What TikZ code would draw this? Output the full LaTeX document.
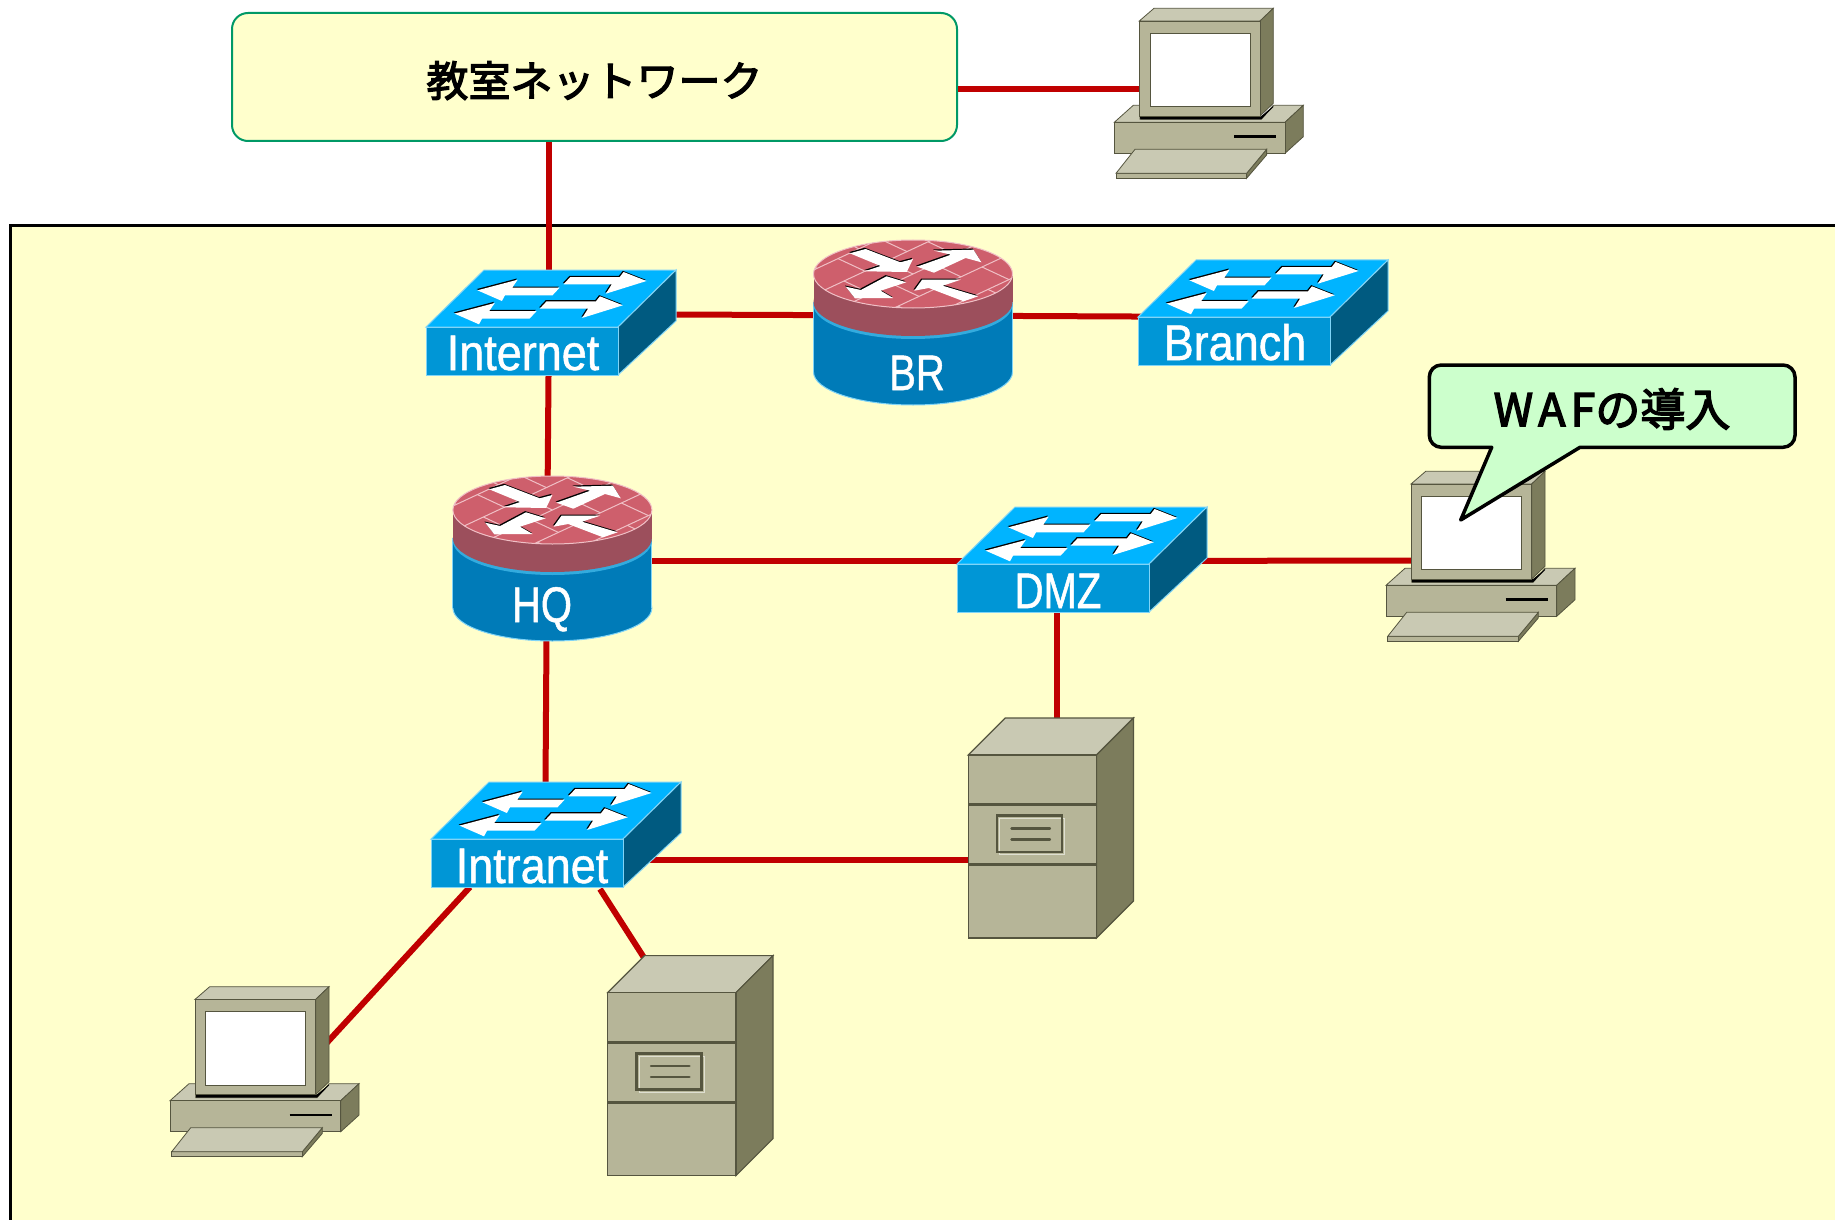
\documentclass[tikz,border=0pt]{standalone}
\usepackage{fontspec}
\usepackage{xcolor}
\usetikzlibrary{positioning}
\newfontfamily\cjkfont[FakeBold=3]{Noto Sans CJK JP}
\newfontfamily\devfont[FakeStretch=0.9,FakeBold=1]{Liberation Sans}
\newfontfamily\capsfont[FakeStretch=0.8,FakeBold=1]{Liberation Sans}
\definecolor{panelyellow}{HTML}{FFFFCC}
\definecolor{linkred}{HTML}{C00000}
\definecolor{roomgreen}{HTML}{009966}
\definecolor{bubblegreen}{HTML}{CCFFCC}
\definecolor{swtop}{HTML}{00B4FF}
\definecolor{swfront}{HTML}{0096D6}
\definecolor{swside}{HTML}{005A80}
\definecolor{swedge}{HTML}{80D4F7}
\definecolor{rttop}{HTML}{CE5F6C}
\definecolor{rtcollar}{HTML}{9C4F5C}
\definecolor{rtbrick}{HTML}{F0C0C6}
\definecolor{rtbody}{HTML}{007BB8}
\definecolor{boxfront}{HTML}{B6B598}
\definecolor{boxtop}{HTML}{C9C9B3}
\definecolor{boxside}{HTML}{7C7C5C}
\definecolor{boxedge}{HTML}{55553F}
\newcommand{\flatarrow}[1]{\fill[black,shift={(-.8,-1.2)}] #1 -- cycle; \fill[white] #1 -- cycle;}
\tikzset{
    pics/switchicon/.style={code={
        \draw[swedge, fill=swtop, line width=1pt] (0,0) -- (58,-57) -- (250,-57) -- (192,0) -- cycle;
        \draw[swedge, fill=swside, line width=1pt] (192,0) -- (250,-57) -- (250,-6) -- (192,48) -- cycle;
        \draw[swedge, fill=swfront, line width=1pt] (0,0) rectangle (192,48);
        % four arrows on the top face
        \foreach \dx/\dy in {0/0, -22.9/23.3} {
            \flatarrow{(51.4+\dx,-36.7+\dy) -- (91.7+\dx,-47.3+\dy) -- (86.2+\dx,-39.3+\dy) -- (133.6+\dx,-39.3+\dy) -- (126.5+\dx,-31.7+\dy) -- (79+\dx,-31.7+\dy) -- (75.9+\dx,-26+\dy)}
        }
        \foreach \dx/\dy in {0/0, -23.7/24.3} {
            \flatarrow{(220.5+\dx,-46+\dy) -- (197.6+\dx,-55+\dy) -- (193.7+\dx,-50+\dy) -- (144.3+\dx,-50+\dy) -- (137.5+\dx,-42.7+\dy) -- (185.8+\dx,-42.7+\dy) -- (179.8+\dx,-33.3+\dy)}
        }
    }},
    pics/routericon/.style={code={
        \fill[rtbody, draw=swedge, line width=1pt] (0,98) ellipse [x radius=99.5, y radius=33];
        \fill[rtbody] (-99.5,28) rectangle (99.5,98);
        \draw[swedge, line width=1pt] (-99.5,28) -- (-99.5,98) (99.5,28) -- (99.5,98);
        \fill[swfront!80!white] (0,31) ellipse [x radius=99.5, y radius=34];
        \fill[rtcollar] (0,28) ellipse [x radius=99.5, y radius=34];
        \fill[rtcollar] (-99.5,0) rectangle (99.5,28);
        \fill[rttop] (0,0) ellipse [x radius=99.5, y radius=34];
        \begin{scope}
            \clip (0,0) ellipse [x radius=99.5, y radius=34];
            % brick pattern
            \foreach \v in {-3,...,3} {
                \draw[rtbrick, line width=1pt] ({-150+\v*27},{70+\v*12.6}) -- ({150+\v*27},{-70+\v*12.6});
                \foreach \u in {-3,...,3} {
                    \draw[rtbrick, line width=1pt] ({\u*42+\v*27+Mod(\v+3,2)*21},{-\u*19.6+\v*12.6+Mod(\v+3,2)*(-9.8)}) -- ++(27,12.6);
                }
            }
        \end{scope}
        \draw[rtbrick, line width=1pt] (0,0) ellipse [x radius=99.5, y radius=34];
        \flatarrow{(-63.2,-20.7) -- (-47.4,-25) -- (-12.6,-11.7) -- (0,-15) -- (-6.3,-2) -- (-48.2,-2.7) -- (-32.4,-8)}
        \flatarrow{(4,-7.3) -- (37.9,-19.3) -- (20.9,-23.3) -- (60.5,-24.3) -- (68.4,-11.7) -- (52.6,-16) -- (20.9,-1.3)}
        \flatarrow{(-26.5,2.3) -- (-6.7,8.3) -- (-32.4,16.7) -- (-19.8,24) -- (-58.1,24.3) -- (-67.2,12.7) -- (-52.2,16)}
        \flatarrow{(1.2,16.7) -- (9.1,5.7) -- (47.8,5.7) -- (29.6,11.7) -- (65.2,22.3) -- (50.6,27.3) -- (15.8,14)}
    }},
    pics/pcicon/.style={code={
        % monitor
        \draw[boxedge, fill=boxtop, line width=.8pt] (0,0) -- (14.7,-12.7) -- (134,-12.7) -- (120.7,0) -- cycle;
        \draw[boxedge, fill=boxside, line width=.8pt] (120.7,0) -- (134,-12.7) -- (134,82.3) -- (120.7,95) -- cycle;
        % base
        \draw[boxedge, fill=boxtop, line width=.8pt] (-25,101.3) -- (-6,84.3) -- (.7,84.3) -- (.7,98.3) -- (122,98.3) -- (134,84.3) -- (164,84.3) -- (145.7,101.3) -- cycle;
        \fill[black] (.7,95) -- (122,95) -- (134,85) -- (134,86) -- (122,98.3) -- (1,98.3) -- cycle;
        \draw[boxedge, fill=boxside, line width=.8pt] (145.7,101.3) -- (164,84.3) -- (164,115.7) -- (145.7,132.3) -- cycle;
        \draw[boxedge, fill=boxfront, line width=.8pt] (-25,101.3) rectangle (145.7,132.3);
        \draw[black, line width=2.5pt] (94.7,115.7) -- (136.7,115.7);
        % keyboard
        \draw[boxedge, fill=boxside, line width=.8pt] (127.3,128.3) -- (127.3,134) -- (107.3,157.3) -- (107.3,152.3) -- cycle;
        \draw[boxedge, fill=boxfront, line width=.8pt] (-23.3,152.3) rectangle (107.3,157.3);
        \draw[boxedge, fill=boxtop, line width=.8pt] (-4.3,128.3) -- (127.3,128.3) -- (107.3,152.3) -- (-23.3,152.3) -- cycle;
        \draw[boxedge, fill=boxfront, line width=.8pt] (0,0) rectangle (120.7,95);
        \draw[boxedge, fill=white, line width=.8pt] (10.7,12.3) rectangle (110.7,85.7);
    }},
    pics/servericon/.style={code={
        \draw[boxedge, fill=boxtop, line width=1.2pt] (0,0) -- (37,-37) -- (165.3,-37) -- (128.3,0) -- cycle;
        \draw[boxedge, fill=boxside, line width=1.2pt] (128.3,0) -- (165.3,-37) -- (165.3,146) -- (128.3,183) -- cycle;
        \draw[boxedge, fill=boxfront, line width=1.2pt] (0,0) rectangle (128.3,183);
        \draw[boxedge, line width=2.5pt] (0,49.7) -- (128.3,49.7) (0,109.7) -- (128.3,109.7);
        \draw[boxtop!60!white, line width=1pt] (31.5,63.5) rectangle (96.5,99.5);
        \draw[boxedge, line width=2.5pt] (29,60.7) rectangle (94,97);
        \draw[boxedge, line width=2.5pt, line cap=round] (43.3,73.3) -- (81.7,73.3) (43.3,84.3) -- (81.7,84.3);
    }}
}
\begin{document}
\begin{tikzpicture}[
    x=1pt, y=-1pt,
    link/.style={linkred, line width=6pt},
    hub/.style={inner sep=0pt, minimum size=0pt},
    devlabel/.style={text=white, anchor=base, inner sep=0pt, font=\devfont\fontsize{50}{56}\selectfont},
    capslabel/.style={devlabel, font=\capsfont\fontsize{50}{56}\selectfont},
    roombox/.style={rectangle, rounded corners=16pt, draw=roomgreen, fill=panelyellow, line width=2pt, minimum width=725pt, minimum height=128pt, font=\cjkfont\fontsize{42}{48}\selectfont},
    bubble/.style={draw=black, fill=bubblegreen, line width=3.5pt, line join=round},
    bubbletext/.style={inner sep=0pt, font=\cjkfont\fontsize{45}{52}\selectfont}
]
    \useasboundingbox (0,0) rectangle (1835,1219.5);
    \fill[white] (0,0) rectangle (1835,1219.5);

    % Classroom area
    \draw[fill=panelyellow, line width=3pt] (10,1230) -- (10,226) -- (1845,226) -- (1845,1230) -- cycle;
    \node[roombox] (room) at (594.5,77) {\raisebox{-19.5pt}[0pt][0pt]{教室ネットワーク}};

    % Connection points behind the devices
    \node[hub] (internet) at (549,314) {};
    \node[hub] (br) at (915,315.5) {};
    \node[hub] (branch) at (1240,317) {};
    \node[hub] (hq) at (547,561) {};
    \node[hub] (dmz) at (1057,561) {};
    \node[hub] (intranet) at (545,860) {};
    \node[hub] (pcroom) at (1200,89.5) {};
    \node[hub] (pcwaf) at (1470,560.5) {};
    \node[hub] (pcuser) at (300,1072) {};
    \node[hub] (srvdmz) at (1057,860) {};
    \node[hub] (srvlan) at (666,992) {};
    \coordinate (intranetl) at (470,887);
    \coordinate (intranetr) at (600,889);

    % Links
    \draw[link] (room.south -| internet) -- (internet);
    \draw[link] (room.east |- pcroom) -- (pcroom);
    \draw[link] (internet) -- (br);
    \draw[link] (br) -- (branch);
    \draw[link] (internet) -- (hq);
    \draw[link] (hq) -- (dmz);
    \draw[link] (dmz) -- (pcwaf);
    \draw[link] (hq) -- (intranet);
    \draw[link] (dmz) -- (srvdmz);
    \draw[link] (intranet) -- (srvdmz);
    \draw[link] (intranetl) -- (pcuser);
    \draw[link] (intranetr) -- (srvlan);

    % Devices
    \foreach \x/\y in {426/327, 1138/317, 957/564, 431/839}
        \pic at (\x,\y) {switchicon};
    \foreach \x/\y in {913/274, 552.4/510}
        \pic at (\x,\y) {routericon};
    \foreach \x/\y in {1139.3/21, 1411/484, 195/999.4}
        \pic at (\x,\y) {pcicon};
    \foreach \x/\y in {968.2/755, 607.7/992.6}
        \pic at (\x,\y) {servericon};

    % Device labels
    \node[devlabel] (lblinternet) at (523,370) {Internet};
    \node[devlabel] (lblbranch) at (1235,360) {Branch};
    \node[capslabel] (lbldmz) at (1058,608) {DMZ};
    \node[devlabel] (lblintranet) at (532,883) {Intranet};
    \node[capslabel] (lblbr) at (917,390) {BR};
    \node[capslabel] (lblhq) at (542,622) {HQ};

    % Speech bubble
    \draw[bubble] (1460.7,520) -- (1491.7,447.3) -- (1470,447.3) [rounded corners=12pt] -- (1429.3,447.3) -- (1429.3,365) -- (1795,365) -- (1795,447.3) -- (1600,447.3) [sharp corners] -- (1580,447.3) -- cycle;
    \node[bubbletext] (waf) at (1612,409) {W\hspace{5pt}A\hspace{5pt}Fの導入};
\end{tikzpicture}
\end{document}
